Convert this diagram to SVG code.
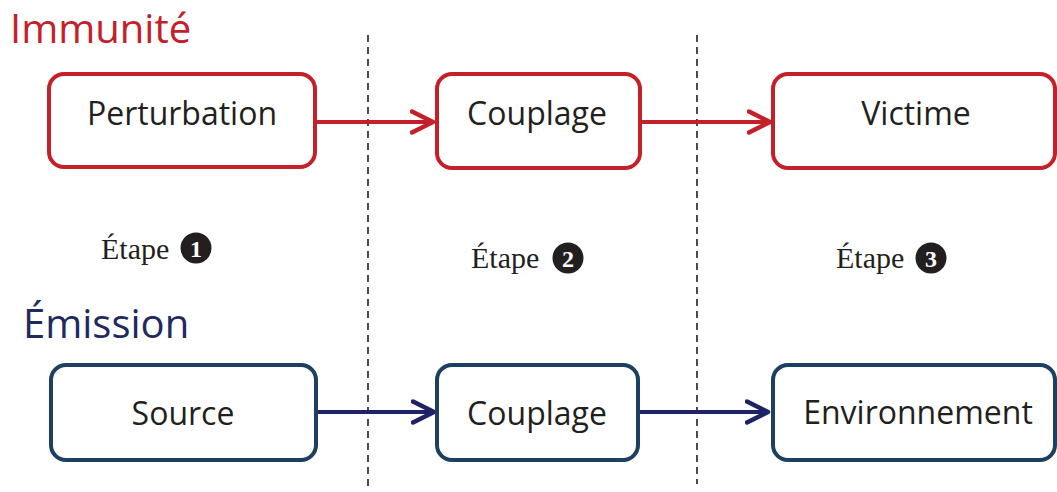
<svg xmlns="http://www.w3.org/2000/svg" width="1057" height="492" viewBox="0 0 1057 492">
<style>
.title{font-family:"Open Sans","Noto Sans",sans-serif;font-size:40px}
.lbl{font-family:"Open Sans","Noto Sans",sans-serif;font-size:32px;fill:#231f20;text-anchor:middle}
.red{fill:#fff;stroke:#c4202a;stroke-width:4}
.blue{fill:#fff;stroke:#1d3f60;stroke-width:4}
.etape{font-family:"Liberation Serif","DejaVu Serif",serif;font-size:30px;fill:#231f20}
.num{font-family:"Liberation Serif","DejaVu Serif",serif;font-size:24px;font-weight:bold;fill:#fff;text-anchor:middle}
.dash{stroke:#231f20;stroke-width:1.6;stroke-dasharray:7 5;fill:none}
</style>
<defs>
<marker id="ar" viewBox="0 0 26 26" markerWidth="26" markerHeight="26" refX="23" refY="13" markerUnits="userSpaceOnUse" orient="auto">
<path d="M2,2.5 L23,13 L2,23.5" fill="none" stroke="#c4202a" stroke-width="4.5" stroke-linecap="round" stroke-linejoin="round"/>
</marker>
<marker id="ab" viewBox="0 0 26 26" markerWidth="26" markerHeight="26" refX="23" refY="13" markerUnits="userSpaceOnUse" orient="auto">
<path d="M2,2.5 L23,13 L2,23.5" fill="none" stroke="#1f2266" stroke-width="4.5" stroke-linecap="round" stroke-linejoin="round"/>
</marker>
</defs>
<rect width="1057" height="492" fill="#fff"/>
<text class="title" x="10" y="43" fill="#c4202a">Immunité</text>
<text class="title" x="23" y="338" fill="#1f2a5e">Émission</text>
<g id="dividers">
<line class="dash" x1="368" y1="35" x2="368" y2="490"/>
<line class="dash" x1="697" y1="35" x2="697" y2="484"/>
</g>
<g id="connectors">
<line x1="317" y1="122" x2="433" y2="122" stroke="#c4202a" stroke-width="4" marker-end="url(#ar)"/>
<line x1="642" y1="122" x2="770" y2="122" stroke="#c4202a" stroke-width="4" marker-end="url(#ar)"/>
<line x1="317" y1="412" x2="434" y2="412" stroke="#1f2266" stroke-width="4" marker-end="url(#ab)"/>
<line x1="640" y1="412" x2="768" y2="412" stroke="#1f2266" stroke-width="4" marker-end="url(#ab)"/>
</g>
<g id="perturbation"><rect class="red" x="49" y="74" width="266" height="93" rx="15"/><text class="lbl" x="182" y="125">Perturbation</text></g>
<g id="couplage-top"><rect class="red" x="437" y="74" width="203" height="94" rx="15"/><text class="lbl" x="537" y="125">Couplage</text></g>
<g id="victime"><rect class="red" x="773" y="74" width="282" height="94" rx="15"/><text class="lbl" x="916" y="125">Victime</text></g>
<g id="source"><rect class="blue" x="51" y="365" width="265" height="95" rx="15"/><text class="lbl" x="183" y="425">Source</text></g>
<g id="couplage-bottom"><rect class="blue" x="437" y="365" width="201" height="95" rx="15"/><text class="lbl" x="537" y="425">Couplage</text></g>
<g id="environnement"><rect class="blue" x="773" y="365" width="282" height="95" rx="15"/><text class="lbl" x="918" y="424">Environnement</text></g>
<g id="etape1"><text class="etape" x="101" y="259">Étape</text><circle cx="196" cy="248" r="15.5" fill="#231f20"/><text class="num" x="196" y="256.5">1</text></g>
<g id="etape2"><text class="etape" x="471" y="268">Étape</text><circle cx="568" cy="258" r="15.5" fill="#231f20"/><text class="num" x="568" y="266.5">2</text></g>
<g id="etape3"><text class="etape" x="836" y="268">Étape</text><circle cx="931" cy="258" r="15.5" fill="#231f20"/><text class="num" x="931" y="266.5">3</text></g>
</svg>
